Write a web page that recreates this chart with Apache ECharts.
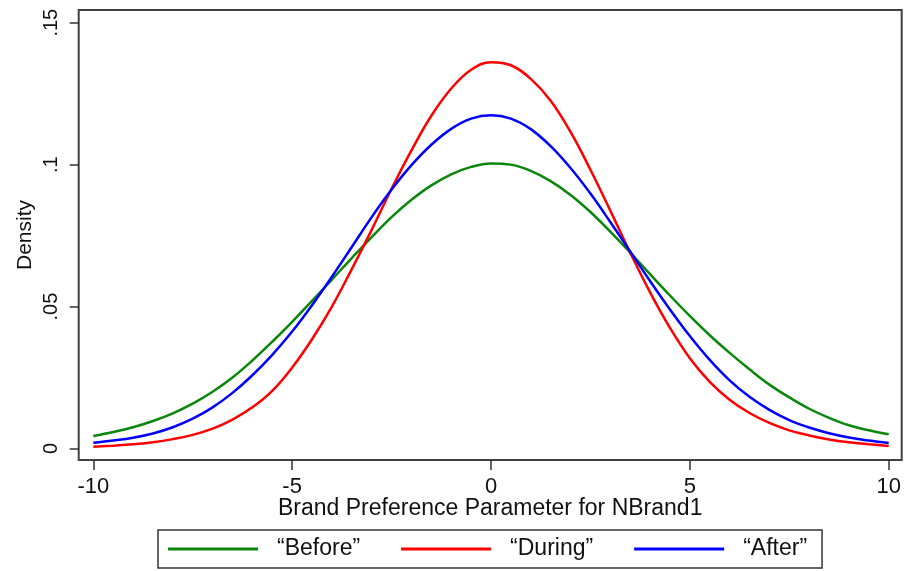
<!DOCTYPE html>
<html>
<head>
<meta charset="utf-8">
<script src="https://cdn.jsdelivr.net/npm/echarts@6/dist/echarts.min.js"></script>
<style>
html,body{margin:0;padding:0;background:#fff;}
#chart{width:906px;height:571px;}
</style>
</head>
<body>
<div id="chart"></div>
<script>
var xValues = [-10,-9.5,-9,-8.5,-8,-7.5,-7,-6.5,-6,-5.5,-5,-4.5,-4,-3.5,-3,-2.5,-2,-1.5,-1,-0.5,0,0.5,1,1.5,2,2.5,3,3.5,4,4.5,5,5.5,6,6.5,7,7.5,8,8.5,9,9.5,10];
var before = [0.0044,0.0058,0.0075,0.0097,0.0124,0.0158,0.0200,0.0250,0.0310,0.0376,0.0446,0.0520,0.0595,0.0671,0.0745,0.0815,0.0876,0.0927,0.0966,0.0992,0.1004,0.1000,0.0978,0.0942,0.0893,0.0833,0.0764,0.0690,0.0614,0.0539,0.0467,0.0399,0.0337,0.0279,0.0225,0.0180,0.0140,0.0108,0.0082,0.0064,0.0050];
var during = [0.0006,0.0010,0.0015,0.0022,0.0033,0.0048,0.0070,0.0102,0.0145,0.0203,0.0285,0.0385,0.0500,0.0632,0.0770,0.0915,0.1050,0.1172,0.1268,0.1334,0.1361,0.1350,0.1302,0.1225,0.1115,0.0982,0.0838,0.0690,0.0550,0.0425,0.0318,0.0235,0.0172,0.0125,0.0090,0.0064,0.0046,0.0032,0.0022,0.0015,0.0009];
var after = [0.0020,0.0028,0.0038,0.0053,0.0075,0.0105,0.0145,0.0196,0.0258,0.0330,0.0412,0.0505,0.0605,0.0710,0.0815,0.0912,0.0998,0.1070,0.1126,0.1162,0.1174,0.1162,0.1125,0.1065,0.0988,0.0898,0.0798,0.0694,0.0590,0.0490,0.0396,0.0312,0.0240,0.0182,0.0136,0.0100,0.0074,0.0054,0.0039,0.0028,0.0019];
var xTicks = [-10,-5,0,5,10];
var yTicks = [0,0.05,0.1,0.15];
var yTickLabels = ['0','.05','.1','.15'];
var seriesNames = ['\u201cBefore\u201d','\u201cDuring\u201d','\u201cAfter\u201d'];
var seriesColors = ['#0a870a','#ff0000','#0000ff'];

function pairs(ys){ return xValues.map(function(x,i){ return [x, ys[i]]; }); }
var allSeries = [before, during, after];

var chart = echarts.init(document.getElementById('chart'), null, {renderer:'canvas'});
var font = 'Liberation Sans, Arial, sans-serif';
chart.setOption({
  animation:false,
  backgroundColor:'#ffffff',
  textStyle:{fontFamily:font},
  grid:{left:78.7, right:4.3, top:10, bottom:111, show:true, borderColor:'#404040', borderWidth:2, backgroundColor:'#fff', containLabel:false, outerBoundsMode:'none'},
  legend:{
    left:158, top:530, orient:'horizontal',
    icon:'rect', itemWidth:90, itemHeight:3, itemGap:41,
    padding:[7,15,7,10],
    borderColor:'#333', borderWidth:1.5,
    textStyle:{fontSize:23, color:'#111', fontFamily:font, padding:[0,0,0,14], lineHeight:24},
    data:seriesNames
  },
  xAxis:{
    type:'value', min:-10.367, max:10.327,
    name:'Brand Preference Parameter for NBrand1', nameLocation:'middle', nameGap:37, nameMoveOverlap:false,
    nameTextStyle:{fontSize:23, color:'#111', fontFamily:font},
    axisLine:{show:false, onZero:false},
    axisTick:{show:true, customValues:xTicks, length:10, lineStyle:{color:'#333', width:1.5}},
    axisLabel:{show:true, customValues:xTicks, margin:16, fontSize:22, color:'#111', fontFamily:font,
      formatter:function(v){ return String(v); }},
    splitLine:{show:false}
  },
  yAxis:{
    type:'value', min:-0.00405, max:0.15447,
    name:'Density', nameLocation:'middle', nameGap:43, nameMoveOverlap:false,
    nameTextStyle:{fontSize:21, color:'#111', fontFamily:font},
    axisLine:{show:false, onZero:false},
    axisTick:{show:true, customValues:yTicks, length:9, lineStyle:{color:'#333', width:1.5}},
    axisLabel:{show:true, customValues:yTicks, rotate:90, margin:17, fontSize:20, color:'#111', fontFamily:font,
      formatter:function(v){ for (var i=0;i<yTicks.length;i++){ if (Math.abs(yTicks[i]-v)<1e-9) return yTickLabels[i]; } return ''; }},
    splitLine:{show:false}
  },
  series: allSeries.map(function(ys, i){
    return {
      name:seriesNames[i], type:'line', data:pairs(ys), smooth:0.4, symbol:'none', showSymbol:false,
      lineStyle:{color:seriesColors[i], width:2.5}, itemStyle:{color:seriesColors[i]}
    };
  })
});
</script>
</body>
</html>
